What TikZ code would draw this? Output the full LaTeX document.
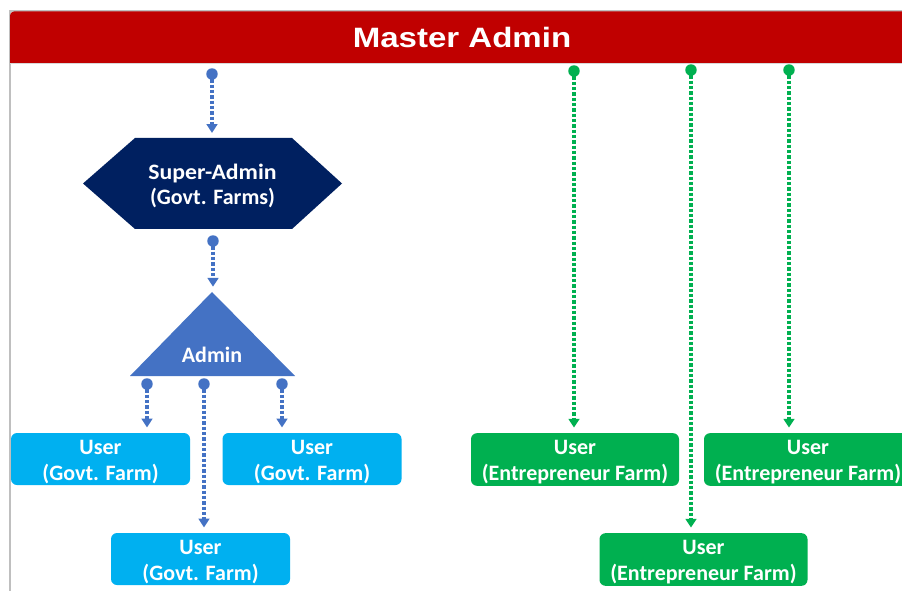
\documentclass[tikz,border=0pt]{standalone}
\usepackage{fontspec}
\usepackage{graphicx}
\setmainfont{Carlito}
\newfontfamily\arialfam{Liberation Sans}
\usetikzlibrary{arrows.meta}
\definecolor{mred}{HTML}{C00000}
\definecolor{navy}{HTML}{002060}
\definecolor{adminblue}{HTML}{4472C4}
\definecolor{lblue}{HTML}{00B0F0}
\definecolor{mgreen}{HTML}{00B050}
\definecolor{frameg}{HTML}{BFBFBF}
\newcommand\topstrut{\rule{0pt}{14.5pt}}
\begin{document}
\begin{tikzpicture}[x=0.75pt,y=-0.75pt,
  conn/.style={line width=2.6pt, dash pattern=on 2.4pt off 1.6pt,
    -{Triangle[width=8pt,length=6.5pt]}, shorten >=4pt},
  bconn/.style={conn, adminblue},
  gconn/.style={conn, mgreen},
  boxtext/.style={text=white, font=\bfseries\fontsize{16.5}{19.5}\selectfont, align=center, inner sep=0pt},
  ubox/.style={boxtext, fill=lblue, rounded corners=4.5pt, minimum width=134.25pt, minimum height=39pt},
  ebox/.style={boxtext, fill=mgreen, rounded corners=4.5pt, minimum width=156pt, minimum height=39.5pt},
  dotb/.style={fill=adminblue},
  dotg/.style={fill=mgreen}]
\clip (0,0) rectangle (902,591);
\fill[white] (0,0) rectangle (902,591);
% frame
\draw[frameg, line width=0.8pt] (10,591) -- (10,11) -- (902,11);
\fill[mred] (10,63) [rounded corners=3pt] -- (10,11.5) [sharp corners] -- (902,11.5) -- (902,63) -- cycle;
\draw[frameg!60!white, line width=0.6pt] (10,63.3) -- (902,63.3);
\node[text=white, font=\arialfam\bfseries\fontsize{21}{24}\selectfont, inner sep=0pt] (master) at (462,37) {\scalebox{1.18}[1]{Master Admin}};

% hexagon
\fill[navy] (83,183.5) -- (135,138) -- (292,138) -- (342,183.5) -- (292,229) -- (135,229) -- cycle;
\node[boxtext, minimum width=194pt, minimum height=68.25pt] (hex) at (212.5,184) {\topstrut\scalebox{1.08}[1]{Super-Admin}\\(Govt. Farms)};

% triangle
\fill[adminblue] (212,292) -- (295,376) -- (130,376) -- cycle;
\coordinate (apex) at (212,292);
\node[boxtext] (admin) at (212,355) {Admin};

% blue users
\node[ubox] (u1) at (100.5,459) {\topstrut User\\(Govt. Farm)};
\node[ubox] (u2) at (312,459) {\topstrut User\\(Govt. Farm)};
\node[ubox] (u3) at (200.5,559) {\topstrut User\\(Govt. Farm)};

% green users
\node[ebox] (e1) at (575,459.5) {\topstrut User\\(Entrepreneur Farm)};
\node[ebox] (e2) at (808,459.5) {\topstrut User\\(Entrepreneur Farm)};
\node[ebox] (e3) at (703.5,559.5) {\topstrut User\\(Entrepreneur Farm)};

% connector start points
\coordinate (s0) at (212,74);
\coordinate (s1) at (213,241);
\coordinate (a1) at (147,384);
\coordinate (a2) at (204,384);
\coordinate (a3) at (282,384);
\coordinate (g1) at (574,71);
\coordinate (g2) at (691,70);
\coordinate (g3) at (789,70);

\draw[bconn] (s0) -- (s0 |- hex.north);
\draw[bconn] (s1) -- (s1 |- apex);
\draw[bconn] (a1) -- (a1 |- u1.north);
\draw[bconn] (a2) -- (a2 |- u3.north);
\draw[bconn] (a3) -- (a3 |- u2.north);
\draw[gconn] (g1) -- (g1 |- e1.north);
\draw[gconn] (g2) -- (g2 |- e3.north);
\draw[gconn] (g3) -- (g3 |- e2.north);

\foreach \p in {s0,s1,a1,a2,a3} \fill[dotb] (\p) circle (4.3pt);
\foreach \p in {g1,g2,g3} \fill[dotg] (\p) circle (4.3pt);
\end{tikzpicture}
\end{document}
